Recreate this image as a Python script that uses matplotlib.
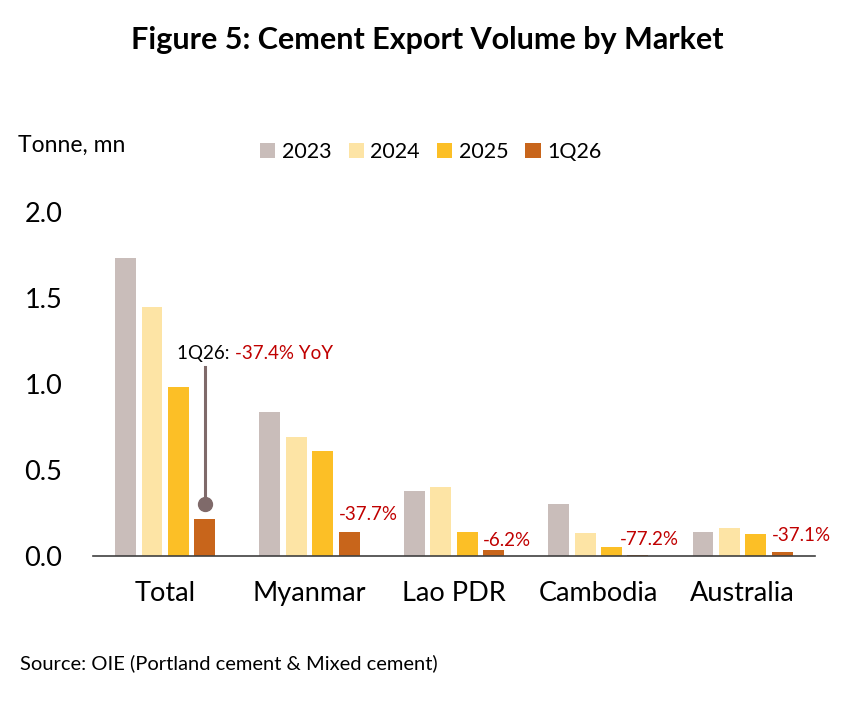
import matplotlib.pyplot as plt
import numpy as np

plt.rcParams['font.family'] = ['Lato', 'DejaVu Sans']

markets = ["Total", "Myanmar", "Lao PDR", "Cambodia", "Australia"]
years = ["2023", "2024", "2025", "1Q26"]
v2023 = [1.73, 0.84, 0.38, 0.30, 0.14]
v2024 = [1.45, 0.69, 0.40, 0.135, 0.163]
v2025 = [0.98, 0.61, 0.14, 0.055, 0.128]
v1q26 = [0.215, 0.14, 0.035, 0.008, 0.025]
yoy_labels = ["-37.4%", "-37.7%", "-6.2%", "-77.2%", "-37.1%"]

colors = ["#C9BDBA", "#FDE4A5", "#FCBF26", "#C8651B"]
red = "#C00000"

fig = plt.figure(figsize=(8.55, 7.01), dpi=100)
ax = fig.add_axes([0.1088, 0.2068, 0.8442, 0.4908])

x = np.arange(len(markets))
step = 0.183
width = 0.145
series = [v2023, v2024, v2025, v1q26]
for i, (vals, c, lab) in enumerate(zip(series, colors, years)):
    ax.bar(x + (i - 1.5) * step, vals, width=width, color=c, label=lab)

ax.set_xlim(-0.5, 4.5)
ax.set_ylim(0, 2.0)
ax.set_yticks([0.0, 0.5, 1.0, 1.5, 2.0])
ax.set_yticklabels(["0.0", "0.5", "1.0", "1.5", "2.0"], fontsize=19.5)
ax.set_xticks(x)
ax.set_xticklabels(markets, fontsize=19.5)
ax.tick_params(axis='both', length=0)
ax.tick_params(axis='x', pad=18)
ax.tick_params(axis='y', pad=22)
for s in ["top", "right", "left"]:
    ax.spines[s].set_visible(False)
ax.spines["bottom"].set_color("#404040")
ax.spines["bottom"].set_linewidth(1.2)

# labels next to the 1Q26 bars (Total has its own callout)
q_left = x + 1.5 * step - width / 2
label_dx = [0, 0.0, 0.0, -0.055, 0.0]
label_y = [0, 0.244, 0.093, 0.099, 0.122]
for i in range(1, len(markets)):
    ax.text(q_left[i] + label_dx[i], label_y[i], yoy_labels[i],
            color=red, fontsize=13.5, ha='left', va='center')

# callout for Total
q0 = x[0] + 1.5 * step
ax.plot([q0, q0], [0.3, 1.10], color="#7F6A6A", lw=2.2)
ax.plot(q0, 0.3, 'o', color="#7F6A6A", ms=10)
t1 = ax.text(q0 - 0.19, 1.18, "1Q26: ", color="black", fontsize=13.5,
             ha='left', va='center')
fig.canvas.draw()
bb = t1.get_window_extent().transformed(ax.transData.inverted())
ax.text(bb.x1, 1.18, yoy_labels[0] + " YoY", color=red, fontsize=13.5,
        ha='left', va='center')

fig.text(0.5, 0.943, "Figure 5: Cement Export Volume by Market", ha='center',
         va='center', fontsize=22, fontweight='bold')
fig.text(0.021, 0.793, "Tonne, mn", fontsize=16.5, va='center')
ax.legend(loc='center left', bbox_to_anchor=(0.205, 1.175), ncol=4, frameon=False,
          fontsize=15.5, handlelength=0.7, handleheight=0.7, handletextpad=0.3,
          columnspacing=0.8)
fig.text(0.023, 0.054, "Source: OIE (Portland cement & Mixed cement)", fontsize=14.5,
         va='center')

fig.savefig("out.png", dpi=100)
